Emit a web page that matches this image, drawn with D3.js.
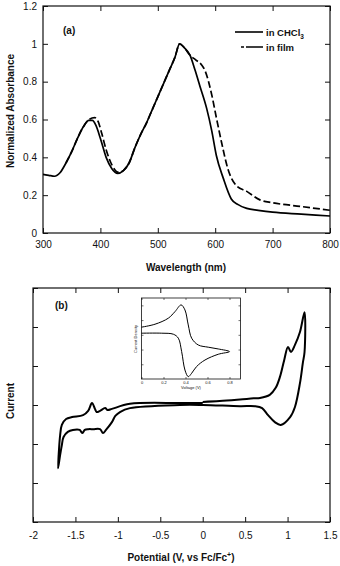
<!DOCTYPE html>
<html>
<head>
<meta charset="utf-8">
<script src="https://cdn.jsdelivr.net/npm/d3@7"></script>
<style>
  body { margin: 0; background: #fff; }
  text { font-family: "Liberation Sans", Arial, sans-serif; fill: #111; }
</style>
</head>
<body>
<div id="chart"></div>
<script>
// (a) normalized absorbance spectra
const solnWl  = [300,310,320,330,340,350,360,370,380,386,392,400,410,420,430,440,450,460,470,480,490,500,510,520,530,538,546,556,565,573,585,594,602,614,628,640,655,675,700,750,800];
const solnAbs = [0.31,0.305,0.30,0.32,0.37,0.43,0.50,0.56,0.595,0.595,0.57,0.50,0.40,0.34,0.315,0.33,0.37,0.45,0.52,0.58,0.65,0.72,0.79,0.86,0.93,1.0,0.98,0.94,0.86,0.78,0.66,0.54,0.41,0.29,0.18,0.15,0.13,0.12,0.11,0.10,0.09];
const filmWl  = [340,350,360,370,380,390,396,402,410,420,432,440,450,460,470,480,490,500,510,520,530,538,546,556,566,576,582,594,602,611,622,637,655,678,700,750,800];
const filmAbs = [0.37,0.43,0.50,0.56,0.60,0.61,0.59,0.53,0.44,0.36,0.32,0.33,0.37,0.45,0.52,0.58,0.65,0.72,0.79,0.86,0.93,1.0,0.98,0.94,0.915,0.89,0.86,0.73,0.61,0.48,0.34,0.25,0.22,0.175,0.16,0.14,0.12];
const wlTicks  = [300,400,500,600,700,800];
const absTicks = [0,0.2,0.4,0.6,0.8,1,1.2];

// (b) cyclic voltammogram, one continuous sweep
const cvV = [0.0,0.2,0.44,0.6,0.675,0.79,0.86,0.91,0.96,1.005,1.04,1.087,1.146,1.2,
             1.2,1.18,1.146,1.087,1.03,0.92,0.85,0.77,0.70,0.616,0.44,0.0,-0.27,-0.857,-0.975,-1.03,-1.07,-1.14,-1.175,-1.21,-1.29,-1.35,-1.39,-1.42,-1.45,-1.53,-1.59,-1.64,-1.66,-1.68,-1.705,
             -1.694,-1.68,-1.66,-1.61,-1.54,-1.41,-1.35,-1.305,-1.27,-1.25,-1.21,-1.15,-1.12,-1.07,-0.857,-0.27,0.0];
const cvI = [0.08,0.10,0.14,0.17,0.18,0.26,0.44,0.72,1.15,1.49,1.36,1.54,1.87,2.38,
             1.36,1.08,0.56,-0.05,-0.31,-0.51,-0.44,-0.26,-0.08,-0.03,-0.03,0.0,0.0,-0.08,-0.18,-0.28,-0.44,-0.64,-0.72,-0.62,-0.62,-0.62,-0.64,-0.72,-0.64,-0.64,-0.69,-0.82,-1.03,-1.28,-1.62,
             -1.15,-0.77,-0.51,-0.36,-0.31,-0.26,-0.15,0.05,-0.10,-0.18,-0.15,-0.08,-0.13,-0.10,0.03,0.05,0.05];
const potTicks = [-2,-1.5,-1,-0.5,0,0.5,1,1.5];
const curTicks = [-3,-2,-1,0,1,2,3];

// inset: ferrocene reference
const insetV = [0.0,0.123,0.244,0.305,0.36,0.395,0.425,0.456,0.516,0.607,0.698,0.80,
                0.698,0.577,0.50,0.456,0.425,0.395,0.365,0.335,0.29,0.184,0.0];
const insetI = [2.52,2.72,3.13,3.58,4.03,3.69,2.67,1.77,1.31,1.16,1.04,0.86,
                0.68,0.29,-0.16,-0.61,-0.84,-0.39,0.86,1.77,2.04,2.11,2.11];
const insetVTicks = [0,0.2,0.4,0.6,0.8];
const insetITicks = [0,1,2,3,4];

const width = 340, height = 566;
const svg = d3.select("#chart").append("svg")
    .attr("width", width)
    .attr("height", height);

const fmt = d => String(d);

function frame(g, x, y, xt, yt, tick, opts) {
    const [x0, x1] = x.range(), [y0, y1] = y.range();
    g.append("g").attr("transform", `translate(0,${y0})`)
        .call(d3.axisBottom(x).tickValues(xt).tickSize(-tick).tickPadding(opts.xPad).tickFormat(opts.xLabels ? fmt : ""));
    g.append("g").attr("transform", `translate(0,${y1})`)
        .call(d3.axisTop(x).tickValues(xt).tickSize(-tick).tickFormat(""));
    g.append("g").attr("transform", `translate(${x0},0)`)
        .call(d3.axisLeft(y).tickValues(yt).tickSize(-tick).tickPadding(opts.yPad || 5).tickFormat(opts.yLabels ? fmt : ""));
    g.append("g").attr("transform", `translate(${x1},0)`)
        .call(d3.axisRight(y).tickValues(yt).tickSize(-tick).tickFormat(""));
    g.selectAll(".domain").remove();
    g.selectAll(".tick line").attr("stroke", "#111");
    g.selectAll(".tick text").attr("font-size", opts.font).attr("fill", "#222")
        .attr("font-family", '"Liberation Sans", Arial, sans-serif');
    g.append("rect")
        .attr("x", x0).attr("y", y1)
        .attr("width", x1 - x0).attr("height", y0 - y1)
        .attr("fill", "none").attr("stroke", "#111").attr("stroke-width", opts.border);
}

// ---------- panel (a)
const xa = d3.scaleLinear().domain([300, 800]).range([43, 330]);
const ya = d3.scaleLinear().domain([0, 1.2]).range([233, 6]);
const ga = svg.append("g");
frame(ga, xa, ya, wlTicks, absTicks, 5, { xLabels: true, yLabels: true, xPad: 8, yPad: 6, font: 10, border: 1.2 });

const lineA = d3.line().x(d => xa(d[0])).y(d => ya(d[1])).curve(d3.curveMonotoneX);
ga.append("path")
    .datum(d3.zip(solnWl, solnAbs))
    .attr("d", lineA)
    .attr("fill", "none").attr("stroke", "#000").attr("stroke-width", 1.7);
ga.append("path")
    .datum(d3.zip(filmWl, filmAbs))
    .attr("d", lineA)
    .attr("fill", "none").attr("stroke", "#000").attr("stroke-width", 1.7)
    .attr("stroke-dasharray", "7,3");

ga.append("text").attr("x", 63).attr("y", 34)
    .attr("font-size", 10).attr("font-weight", "bold").text("(a)");

// legend
ga.append("line").attr("x1", 235).attr("x2", 263).attr("y1", 32).attr("y2", 32)
    .attr("stroke", "#000").attr("stroke-width", 1.6);
const lt = ga.append("text").attr("x", 266).attr("y", 35.5)
    .attr("font-size", 9.5).attr("font-weight", "bold");
lt.append("tspan").text("in CHCl");
lt.append("tspan").attr("font-size", 6.5).attr("dy", 3).text("3");
ga.append("line").attr("x1", 241).attr("x2", 263).attr("y1", 47).attr("y2", 47)
    .attr("stroke", "#000").attr("stroke-width", 1.6).attr("stroke-dasharray", "3,2,17");
ga.append("text").attr("x", 266).attr("y", 50.5)
    .attr("font-size", 9.5).attr("font-weight", "bold").text("in film");

ga.append("text").attr("x", 186).attr("y", 271).attr("text-anchor", "middle")
    .attr("font-size", 10).attr("font-weight", "bold").text("Wavelength (nm)");
ga.append("text").attr("transform", "rotate(-90)")
    .attr("x", -111).attr("y", 14).attr("text-anchor", "middle")
    .attr("font-size", 10).attr("font-weight", "bold").text("Normalized Absorbance");

// ---------- panel (b)
const xb = d3.scaleLinear().domain([-2, 1.5]).range([33, 330]);
const yb = d3.scaleLinear().domain([-3, 3]).range([522, 288]);
const gb = svg.append("g");
frame(gb, xb, yb, potTicks, curTicks, 5, { xLabels: true, yLabels: false, xPad: 10, font: 10, border: 1.2 });

const lineB = d3.line().x(d => xb(d[0])).y(d => yb(d[1])).curve(d3.curveCatmullRom.alpha(0.5));
gb.append("path")
    .datum(d3.zip(cvV, cvI))
    .attr("d", lineB)
    .attr("fill", "none").attr("stroke", "#000").attr("stroke-width", 2)
    .attr("stroke-linejoin", "round");

gb.append("text").attr("x", 55).attr("y", 309)
    .attr("font-size", 10).attr("font-weight", "bold").text("(b)");

const xt = gb.append("text").attr("x", 181).attr("y", 561).attr("text-anchor", "middle")
    .attr("font-size", 10).attr("font-weight", "bold");
xt.append("tspan").text("Potential (V, vs Fc/Fc");
xt.append("tspan").attr("font-size", 7).attr("dy", -4).text("+");
xt.append("tspan").attr("dy", 4).text(")");
gb.append("text").attr("transform", "rotate(-90)")
    .attr("x", -401).attr("y", 14).attr("text-anchor", "middle")
    .attr("font-size", 10).attr("font-weight", "bold").text("Current");

// ---------- inset
const xi = d3.scaleLinear().domain([0, 0.9]).range([141.5, 240.5]);
const yi = d3.scaleLinear().domain([-1, 4.5]).range([379, 298]);
const gi = svg.append("g");
gi.append("rect").attr("x", 141.5).attr("y", 298).attr("width", 99).attr("height", 81).attr("fill", "#fff");
frame(gi, xi, yi, insetVTicks, insetITicks, 2, { xLabels: true, yLabels: false, xPad: 2, font: 4, border: 0.8 });
gi.selectAll(".tick line").attr("stroke-width", 0.6);

const lineI = d3.line().x(d => xi(d[0])).y(d => yi(d[1])).curve(d3.curveCatmullRom.alpha(0.5));
gi.append("path")
    .datum(d3.zip(insetV, insetI))
    .attr("d", lineI)
    .attr("fill", "none").attr("stroke", "#000").attr("stroke-width", 1);

gi.append("text").attr("x", 191).attr("y", 388.5).attr("text-anchor", "middle")
    .attr("font-size", 4).text("Voltage (V)");
gi.append("text").attr("transform", "rotate(-90)")
    .attr("x", -339).attr("y", 137).attr("text-anchor", "middle")
    .attr("font-size", 4).text("Current Density");
</script>
</body>
</html>
